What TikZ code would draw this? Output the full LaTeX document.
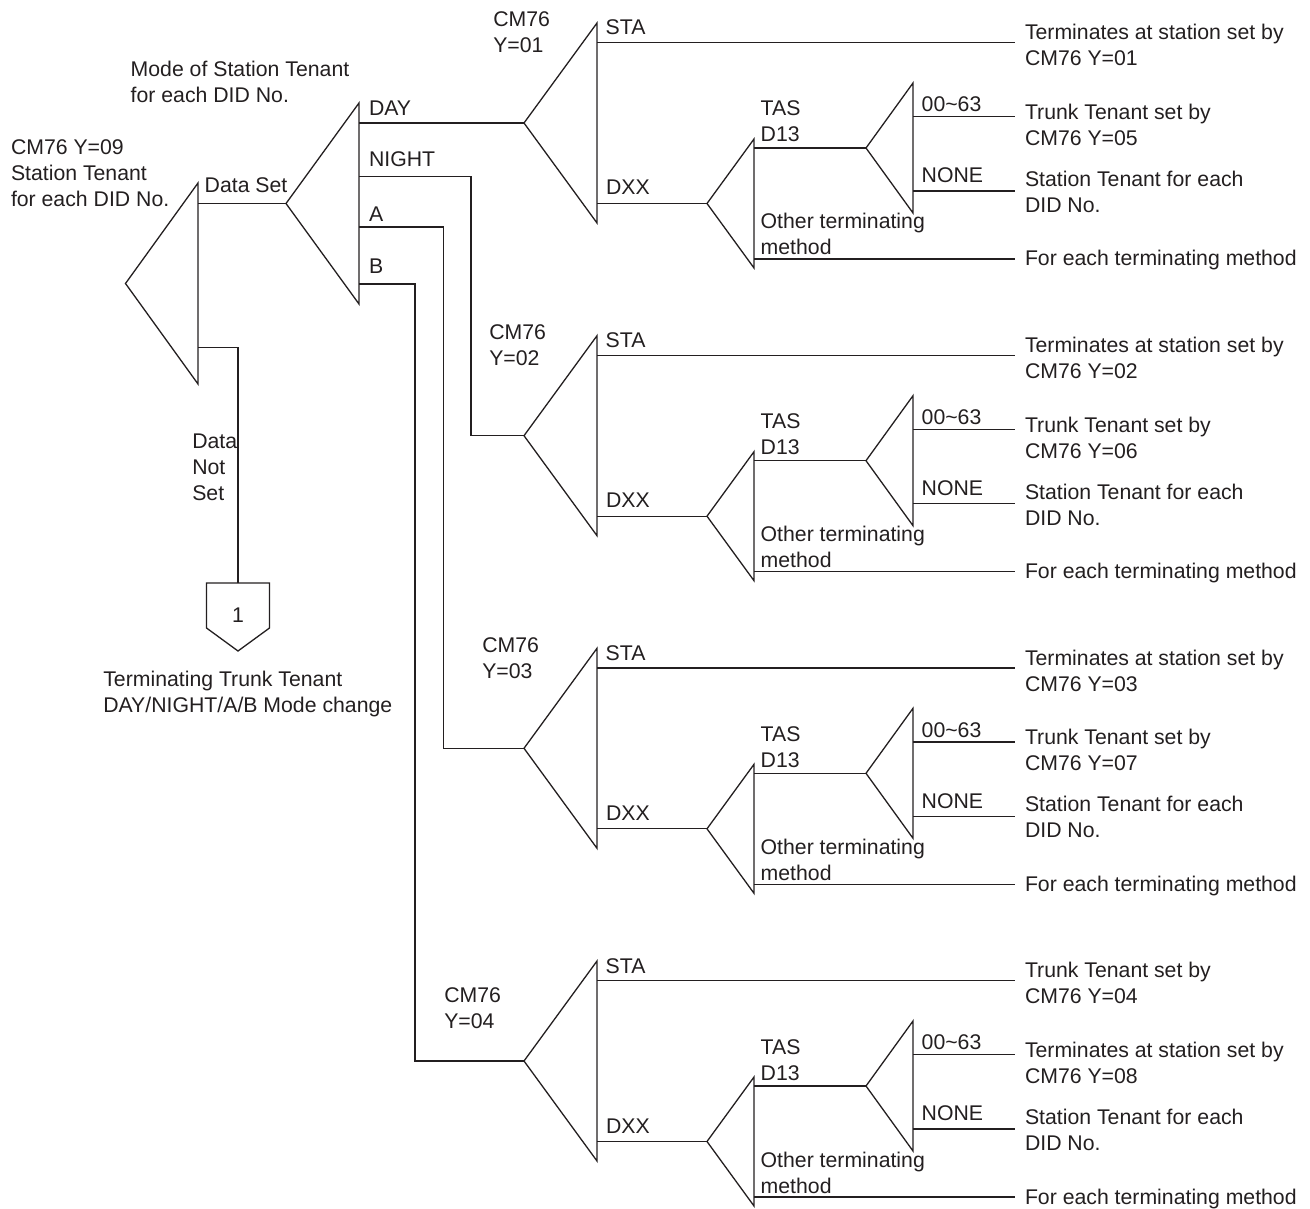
\documentclass[tikz,border=0pt]{standalone}
\usepackage{fontspec}
\setmainfont{Liberation Sans}
\usetikzlibrary{calc}
\definecolor{ink}{RGB}{35,31,32}
% left-aligned multi-line text whose baseline is the first line's baseline
\newcommand\stack[1]{\vtop{\halign{##\hfil\cr#1\crcr}}}

% one CM76 branch: #1 index, #2 vertical offset, #3/#4 position of the CM76 label,
% #5/#6 text at the STA end, #7/#8 text at the 00~63 end
\newcommand\branchgroup[8]{%
  \begin{scope}[yshift=-#2pt]
    % first fork: STA / DXX
    \coordinate (g#1-apex) at (524,123);
    \coordinate (g#1-top)  at (597,23);
    \coordinate (g#1-bot)  at (597,223);
    \draw[wire] (g#1-apex) -- (g#1-top) -- (g#1-bot) -- cycle;
    \coordinate (g#1-sta)    at (597,42.7);
    \coordinate (g#1-staend) at (1015,42.7);
    \draw[wire] (g#1-sta) -- (g#1-staend);
    % second fork: TAS D13 / other
    \coordinate (g#1-dxx)  at (597,203.5);
    \coordinate (g#1-dapex) at (707,203.5);
    \coordinate (g#1-dtop) at (754,139);
    \coordinate (g#1-dbot) at (754,268);
    \draw[wire] (g#1-dxx) -- (g#1-dapex);
    \draw[wire] (g#1-dapex) -- (g#1-dtop) -- (g#1-dbot) -- cycle;
    \coordinate (g#1-oth)    at (754,259);
    \coordinate (g#1-othend) at (1015,259);
    \draw[wire] (g#1-oth) -- (g#1-othend);
    % third fork: 00~63 / NONE
    \coordinate (g#1-tas)   at (754,148);
    \coordinate (g#1-tapex) at (866,148);
    \coordinate (g#1-ttop)  at (913,83);
    \coordinate (g#1-tbot)  at (913,213);
    \draw[wire] (g#1-tas) -- (g#1-tapex);
    \draw[wire] (g#1-tapex) -- (g#1-ttop) -- (g#1-tbot) -- cycle;
    \coordinate (g#1-rng)    at (913,116.7);
    \coordinate (g#1-rngend) at (1015,116.7);
    \coordinate (g#1-non)    at (913,191);
    \coordinate (g#1-nonend) at (1015,191);
    \draw[wire] (g#1-rng) -- (g#1-rngend);
    \draw[wire] (g#1-non) -- (g#1-nonend);
    % labels
    \node[lbl] (g#1-cm)   at (#3,#4)        {\stack{CM76\cr Y=0#1}};
    \node[lbl] (g#1-lsta) at (605.7,35)     {STA};
    \node[lbl] (g#1-ldxx) at (606,195)      {DXX};
    \node[lbl] (g#1-ltas) at (760.7,116)    {\stack{TAS\cr D13}};
    \node[lbl] (g#1-loth) at (760.7,229)    {\stack{Other terminating\cr method}};
    \node[lbl] (g#1-lrng) at (921.7,111.7)  {00\textasciitilde 63};
    \node[lbl] (g#1-lnon) at (921.7,182.7)  {NONE};
    \node[lbl] (g#1-ra)   at (1025,39.7)    {\stack{#5\cr #6}};
    \node[lbl] (g#1-rb)   at (1025,119.5)   {\stack{#7\cr #8}};
    \node[lbl] (g#1-rc)   at (1025,186.5)   {\stack{Station Tenant for each\cr DID No.}};
    \node[lbl] (g#1-rd)   at (1025,266)     {For each terminating method};
  \end{scope}}

\begin{document}
\begin{tikzpicture}[x=1pt,y=-1pt,
  wire/.style={draw=ink,line width=1.3pt,line join=miter},
  lbl/.style={anchor=base west,inner sep=0pt,outer sep=0pt,text=ink,
              font=\fontsize{21.25}{26}\selectfont}]
\useasboundingbox (0,0) rectangle (1310,1209);

% main fork: CM76 Y=09
\coordinate (m-apex) at (125.5,283.5);
\coordinate (m-top)  at (198,183);
\coordinate (m-bot)  at (198,384);
\draw[wire] (m-apex) -- (m-top) -- (m-bot) -- cycle;

% mode fork: DAY / NIGHT / A / B
\coordinate (m-set)  at (198,203.5);
\coordinate (s-apex) at (286,203.5);
\coordinate (s-top)  at (359,103);
\coordinate (s-bot)  at (359,304);
\draw[wire] (m-set) -- (s-apex);
\draw[wire] (s-apex) -- (s-top) -- (s-bot) -- cycle;

% the four CM76 branches
\branchgroup{1}{0}{493.3}{26.7}{Terminates at station set by}{CM76 Y=01}{Trunk Tenant set by}{CM76 Y=05}
\branchgroup{2}{312.7}{489.3}{26.3}{Terminates at station set by}{CM76 Y=02}{Trunk Tenant set by}{CM76 Y=06}
\branchgroup{3}{625.3}{482.3}{27}{Terminates at station set by}{CM76 Y=03}{Trunk Tenant set by}{CM76 Y=07}
\branchgroup{4}{938}{444.3}{64.7}{Trunk Tenant set by}{CM76 Y=04}{Terminates at station set by}{CM76 Y=08}

% mode outputs to the branches
\coordinate (s-day)   at (359,123);
\coordinate (s-night) at (359,176.7);
\coordinate (s-a)     at (359,227);
\coordinate (s-b)     at (359,284);
\coordinate (t-night) at (471,176.7);
\coordinate (t-a)     at (443.3,227);
\coordinate (t-b)     at (415,284);
\draw[wire] (s-day) -- (g1-apex);
\draw[wire] (s-night) -- (t-night) |- (g2-apex);
\draw[wire] (s-a) -- (t-a) |- (g3-apex);
\draw[wire] (s-b) -- (t-b) |- (g4-apex);

% "Data Not Set" path to off-page connector 1
\coordinate (m-notset) at (198,347.7);
\coordinate (t-notset) at (238,347.7);
\coordinate (pg-top)   at (238,583);
\draw[wire] (m-notset) -- (t-notset) -- (pg-top);
\draw[wire] (206.5,583) -- (269.5,583) -- (269.5,628) -- (238,651) -- (206.5,628) -- cycle;
\node[lbl,anchor=center] (pg) at (238,615) {1};

% labels
\node[lbl] (mode)  at (130.7,76.7) {\stack{Mode of Station Tenant\cr for each DID No.}};
\node[lbl] (cm09)  at (11,154.3)   {\stack{CM76 Y=09\cr Station Tenant\cr for each DID No.}};
\node[lbl] (dset)  at (204.7,192.7) {Data Set};
\node[lbl] (lday)  at (369,115.2)  {DAY};
\node[lbl] (lnight) at (369,166.9) {NIGHT};
\node[lbl] (la)    at (369,221.9)  {A};
\node[lbl] (lb)    at (369,273.5)  {B};
\node[lbl] (nset)  at (192.3,448)  {\stack{Data\cr Not\cr Set}};
\node[lbl] (mchg)  at (103.3,686.7) {\stack{Terminating Trunk Tenant\cr DAY/NIGHT/A/B Mode change}};
\end{tikzpicture}
\end{document}
